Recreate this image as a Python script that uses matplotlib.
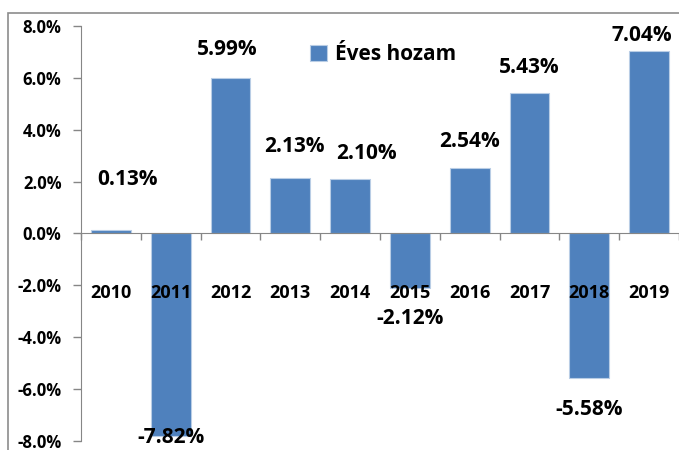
import numpy as np
import matplotlib.pyplot as plt
from matplotlib.patches import Rectangle

# adatok
evek = ['2010', '2011', '2012', '2013', '2014', '2015', '2016', '2017', '2018', '2019']
hozam = [0.13, -7.82, 5.99, 2.13, 2.10, -2.12, 2.54, 5.43, -5.58, 7.04]
cimke = ['0.13%', '-7.82%', '5.99%', '2.13%', '2.10%', '-2.12%', '2.54%', '5.43%', '-5.58%', '7.04%']

# cimkek helye (layout)
cimke_y = [2.08, -7.85, 7.1, 3.35, 3.1, -3.27, 3.55, 6.4, -6.77, 7.65]
cimke_dx = [0.27, 0, -0.05, 0.07, 0.27, 0, 0, 0, 0, -0.13]

plt.rcParams['font.family'] = ['Open Sans', 'DejaVu Sans']
plt.rcParams['font.weight'] = 'bold'

szin = '#4F81BD'
fig = plt.figure(figsize=(6.79, 4.5), dpi=100)
ax = fig.add_axes([81/679, 9/450, 598/679, 415/450])

x = np.arange(len(evek))
ax.bar(x, hozam, width=0.667, color=szin, edgecolor='#B9CDE5', linewidth=0.8,
       label='Éves hozam', zorder=2)

ax.set_xlim(-0.5, -0.5 + 598/60)
ax.set_ylim(-8, 8)
ax.set_yticks(np.arange(-8, 9, 2))
ax.set_yticklabels(['%.1f%%' % v for v in np.arange(-8, 9, 2)], fontsize=12, fontweight='bold')
ax.tick_params(axis='y', direction='out', length=6, color='#868686', width=1, pad=8)

# x tengely a 0-nal
ax.spines['bottom'].set_position(('data', 0))
ax.spines['bottom'].set_color('#868686')
ax.spines['left'].set_color('#868686')
ax.spines['top'].set_visible(False)
ax.spines['right'].set_visible(False)
ax.set_xticks(np.arange(-0.5, 10, 1))
ax.set_xticklabels([])
ax.tick_params(axis='x', direction='out', length=5, color='#868686', width=1)

for i, ev in enumerate(evek):
    ax.text(i, -2.3, ev, ha='center', va='center', fontsize=13, fontweight='bold', zorder=3)

for i, c in enumerate(cimke):
    ax.text(i + cimke_dx[i], cimke_y[i], c, ha='center', va='center', fontsize=15,
            fontweight='bold', zorder=3)

leg = ax.legend(loc='center', bbox_to_anchor=(383/679, 1 - 55/450), bbox_transform=fig.transFigure,
                frameon=False, prop={'size': 15, 'weight': 'bold'}, handlelength=0.8,
                handleheight=0.8, handletextpad=0.4)

fig.patches.append(Rectangle((8/679, -0.05), 1.0, (450 - 13)/450 + 0.05, transform=fig.transFigure,
                             fill=False, edgecolor='#8C8C8C', linewidth=1.2))

fig.savefig('out.png', dpi=100)
